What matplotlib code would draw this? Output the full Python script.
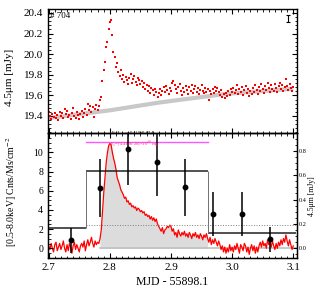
"""
IR (4.5um) flare light curve with X-ray counts, source #704.
"""

import numpy as np
import matplotlib
matplotlib.use("Agg")
import matplotlib.pyplot as plt
from matplotlib.ticker import MultipleLocator

plt.rcParams['font.family'] = ['Liberation Serif', 'DejaVu Serif']
plt.rcParams['mathtext.fontset'] = 'stix'

# time grid (MJD - 55898.1)
mjd = [
    2.700, 2.702, 2.704, 2.706, 2.708, 2.710, 2.712, 2.714, 2.716, 2.718,
    2.720, 2.722, 2.724, 2.726, 2.728, 2.730, 2.732, 2.734, 2.736, 2.738,
    2.740, 2.742, 2.744, 2.746, 2.748, 2.750, 2.752, 2.754, 2.756, 2.758,
    2.760, 2.762, 2.764, 2.766, 2.768, 2.770, 2.772, 2.774, 2.776, 2.778,
    2.780, 2.782, 2.784, 2.786, 2.788, 2.790, 2.792, 2.794, 2.796, 2.798,
    2.800, 2.802, 2.804, 2.806, 2.808, 2.810, 2.812, 2.814, 2.816, 2.818,
    2.820, 2.822, 2.824, 2.826, 2.828, 2.830, 2.832, 2.834, 2.836, 2.838,
    2.840, 2.842, 2.844, 2.846, 2.848, 2.850, 2.852, 2.854, 2.856, 2.858,
    2.860, 2.862, 2.864, 2.866, 2.868, 2.870, 2.872, 2.874, 2.876, 2.878,
    2.880, 2.882, 2.884, 2.886, 2.888, 2.890, 2.892, 2.894, 2.896, 2.898,
    2.900, 2.902, 2.904, 2.906, 2.908, 2.910, 2.912, 2.914, 2.916, 2.918,
    2.920, 2.922, 2.924, 2.926, 2.928, 2.930, 2.932, 2.934, 2.936, 2.938,
    2.940, 2.942, 2.944, 2.946, 2.948, 2.950, 2.952, 2.954, 2.956, 2.958,
    2.960, 2.962, 2.964, 2.966, 2.968, 2.970, 2.972, 2.974, 2.976, 2.978,
    2.980, 2.982, 2.984, 2.986, 2.988, 2.990, 2.992, 2.994, 2.996, 2.998,
    3.000, 3.002, 3.004, 3.006, 3.008, 3.010, 3.012, 3.014, 3.016, 3.018,
    3.020, 3.022, 3.024, 3.026, 3.028, 3.030, 3.032, 3.034, 3.036, 3.038,
    3.040, 3.042, 3.044, 3.046, 3.048, 3.050, 3.052, 3.054, 3.056, 3.058,
    3.060, 3.062, 3.064, 3.066, 3.068, 3.070, 3.072, 3.074, 3.076, 3.078,
    3.080, 3.082, 3.084, 3.086, 3.088, 3.090, 3.092, 3.094, 3.096, 3.098,
    3.100,
]

# 4.5um flux [mJy]
flux = [
    19.44, 19.40, 19.37, 19.42, 19.39, 19.43, 19.38, 19.41, 19.36, 19.44,
    19.40, 19.43, 19.38, 19.47, 19.42, 19.45, 19.39, 19.41, 19.37, 19.43,
    19.48, 19.40, 19.38, 19.44, 19.41, 19.37, 19.42, 19.45, 19.39, 19.43,
    19.47, 19.41, 19.52, 19.46, 19.50, 19.44, 19.49, 19.39, 19.47, 19.51,
    19.46, 19.50, 19.56, 19.58, 19.74, 19.85, 19.92, 20.07, 20.12, 20.24,
    20.31, 20.33, 20.19, 20.02, 19.97, 19.88, 19.91, 19.83, 19.79, 19.85,
    19.76, 19.80, 19.73, 19.78, 19.75, 19.71, 19.77, 19.81, 19.72, 19.76,
    19.79, 19.73, 19.70, 19.77, 19.75, 19.71, 19.74, 19.68, 19.72, 19.66,
    19.70, 19.64, 19.69, 19.62, 19.67, 19.65, 19.60, 19.66, 19.63, 19.58,
    19.62, 19.66, 19.60, 19.64, 19.68, 19.63, 19.69, 19.65, 19.61, 19.67,
    19.64, 19.72, 19.74, 19.70, 19.66, 19.62, 19.68, 19.71, 19.64, 19.60,
    19.67, 19.63, 19.69, 19.65, 19.61, 19.68, 19.64, 19.70, 19.62, 19.66,
    19.69, 19.63, 19.67, 19.61, 19.65, 19.70, 19.64, 19.62, 19.67, 19.63,
    19.66, 19.56, 19.64, 19.61, 19.66, 19.62, 19.68, 19.64, 19.67, 19.63,
    19.60, 19.65, 19.58, 19.61, 19.57, 19.62, 19.59, 19.64, 19.60, 19.66,
    19.63, 19.67, 19.62, 19.65, 19.70, 19.61, 19.66, 19.63, 19.68, 19.60,
    19.65, 19.69, 19.62, 19.66, 19.59, 19.64, 19.61, 19.67, 19.63, 19.70,
    19.65, 19.61, 19.68, 19.64, 19.71, 19.66, 19.62, 19.69, 19.65, 19.72,
    19.67, 19.63, 19.70, 19.66, 19.64, 19.71, 19.67, 19.63, 19.69, 19.72,
    19.66, 19.70, 19.64, 19.68, 19.76, 19.69, 19.65, 19.71, 19.67, 19.64,
    19.68,
]

# quiescent baseline (grey band)
base_t = [2.700, 2.800, 2.880, 2.990, 3.100]
base_f = [19.38, 19.455, 19.53, 19.615, 19.665]

# baseline-subtracted 4.5um flux [mJy], right axis of lower panel
dflux = [
    0.02, -0.01, 0.04, 0.00, -0.03, 0.03, 0.05, -0.02, 0.01, 0.04,
    -0.01, 0.02, 0.06, 0.00, -0.03, 0.03, -0.02, 0.04, 0.01, -0.04,
    0.02, 0.05, -0.01, 0.03, 0.00, -0.03, 0.02, 0.04, 0.01, 0.06,
    -0.02, 0.03, 0.07, 0.02, 0.05, 0.09, 0.04, 0.01, 0.06, 0.03,
    0.05, 0.04, 0.08, 0.15, 0.30, 0.45, 0.58, 0.70, 0.78, 0.84,
    0.86, 0.85, 0.79, 0.74, 0.70, 0.65, 0.58, 0.55, 0.52, 0.48,
    0.46, 0.44, 0.41, 0.42, 0.38, 0.39, 0.36, 0.37, 0.34, 0.35,
    0.33, 0.34, 0.31, 0.33, 0.32, 0.30, 0.31, 0.29, 0.30, 0.27,
    0.28, 0.26, 0.27, 0.24, 0.26, 0.23, 0.25, 0.22, 0.24, 0.20,
    0.18, 0.16, 0.14, 0.17, 0.12, 0.15, 0.16, 0.18, 0.17, 0.19,
    0.18, 0.14, 0.16, 0.11, 0.13, 0.09, 0.15, 0.12, 0.10, 0.13,
    0.11, 0.14, 0.10, 0.12, 0.09, 0.13, 0.11, 0.08, 0.12, 0.10,
    0.13, 0.09, 0.11, 0.08, 0.12, 0.10, 0.07, 0.11, 0.09, 0.12,
    0.08, 0.05, 0.09, 0.03, 0.07, 0.04, 0.08, 0.05, 0.02, 0.06,
    0.03, -0.01, 0.02, -0.03, 0.01, -0.04, 0.00, -0.03, 0.03, -0.02,
    0.01, -0.03, 0.02, -0.01, 0.04, 0.00, -0.04, 0.03, 0.01, -0.02,
    0.04, 0.02, -0.03, 0.01, -0.05, 0.00, 0.03, -0.02, 0.02, -0.04,
    0.01, -0.03, 0.02, 0.05, 0.01, 0.06, 0.02, 0.04, 0.00, 0.07,
    0.03, 0.05, 0.01, 0.06, 0.02, -0.01, 0.04, 0.00, 0.05, 0.02,
    0.07, 0.03, 0.08, 0.05, 0.11, 0.06, 0.02, 0.07, 0.03, -0.01,
    0.02,
]

# X-ray binned counts
xr_t = [2.737, 2.784, 2.830, 2.877, 2.923, 2.969, 3.016, 3.062]
xr_c = [0.86, 6.3, 10.35, 9.0, 6.35, 3.6, 3.6, 0.93]
xr_e = [1.3, 3.0, 3.8, 3.6, 3.0, 2.3, 2.3, 1.3]

# Bayesian-block levels
blk_edges = [2.700, 2.761, 2.960, 3.105]
blk_rate = [2.15, 8.1, 1.63]
quiet_rate = 2.46
flare_t0, flare_t1 = 2.784, 2.960
flare_bar = 11.1

fig = plt.figure(figsize=(3.27, 2.94), dpi=100)
ax1 = fig.add_axes([0.147, 0.5466, 0.761, 0.4218])
ax2 = fig.add_axes([0.147, 0.1214, 0.761, 0.4252])
ax3 = ax2.twinx()

xlim = (2.699, 3.106)

# upper panel
ax1.plot(base_t, base_f, color='#c8c8c8', lw=3, solid_capstyle='butt', zorder=1)
ax1.plot(mjd, flux, 's', color='red', ms=2.0, mew=0, zorder=2)
ax1.errorbar([3.092], [20.345], yerr=[0.035], color='black', lw=0.8,
             capsize=1.6, capthick=0.8)
ax1.text(0.008, 0.975, '# 704', transform=ax1.transAxes, fontsize=6.5,
         va='top', ha='left')
ax1.set_xlim(*xlim)
ax1.set_ylim(19.232, 20.436)
ax1.yaxis.set_major_locator(MultipleLocator(0.2))
ax1.yaxis.set_minor_locator(MultipleLocator(0.04))
ax1.set_ylabel('4.5μm [mJy]', fontsize=8)
ax1.yaxis.set_label_coords(-0.135, 0.45)
ax1.tick_params(labelbottom=False)

# lower panel, right axis: IR excess curve
t_arr = np.array(mjd)
d_arr = np.array(dflux)
in_flare = (t_arr >= flare_t0) & (t_arr <= flare_t1)
ax3.fill_between(t_arr, 0, d_arr, where=in_flare, color='#dcdcdc', lw=0,
                 zorder=1)
ax3.plot([flare_t0, xlim[1]], [0, 0], color='#c0c0c0', lw=1.2, zorder=1)
ax3.plot(mjd, dflux, color='red', lw=0.9, zorder=2)
ax3.set_ylim(-0.082, 0.943)
ax3.yaxis.set_major_locator(MultipleLocator(0.2))
ax3.yaxis.set_minor_locator(MultipleLocator(0.05))
ax3.set_ylabel('4.5μm [mJy]', fontsize=5.5, labelpad=1)
ax3.tick_params(axis='y', which='both', direction='in', labelsize=4.5,
                pad=1.5)
ax3.tick_params(axis='y', which='major', length=3)
ax3.tick_params(axis='y', which='minor', length=1.5)

# lower panel, left axis: X-ray
ax2.set_zorder(ax3.get_zorder() + 1)
ax2.patch.set_visible(False)
ax2.hlines(blk_rate, blk_edges[:-1], blk_edges[1:], color='#202020', lw=1.1)
ax2.vlines(blk_edges[1:-1], blk_rate[:-1], blk_rate[1:], color='#707070',
           lw=0.7)
ax2.plot([blk_edges[1], xlim[1]], [quiet_rate, quiet_rate], ':',
         color='#808080', lw=0.7)
ax2.plot([blk_edges[1], flare_t1], [flare_bar, flare_bar], color='#ff55ff',
         lw=1.0)
ax2.errorbar(xr_t, xr_c, yerr=xr_e, fmt='o', color='black', ms=3.2, lw=1.1,
             capsize=0)
ax2.text(2.802, 11.45, r'E$_{fl}$/L$_{IR,fl}$=0.415±0.024', fontsize=3.3,
         color='black', va='bottom')
ax2.text(2.800, 11.3, r'E$_{fl}$=(4.43±0.20)×10$^{40}$ erg', fontsize=3.3,
         color='#ff3366', va='top')
ax2.set_xlim(*xlim)
ax2.set_ylim(-1.04, 11.98)
ax2.yaxis.set_major_locator(MultipleLocator(2))
ax2.yaxis.set_minor_locator(MultipleLocator(0.5))
ax2.set_ylabel(r'[0.5-8.0keV] Cnts/Ms/cm$^{-2}$', fontsize=7)
ax2.yaxis.set_label_coords(-0.115, 0.53)
ax2.set_xlabel('MJD - 55898.1', fontsize=8.5, labelpad=3)

for ax in (ax1, ax2):
    ax.xaxis.set_major_locator(MultipleLocator(0.1))
    ax.xaxis.set_minor_locator(MultipleLocator(0.01))
    ax.tick_params(which='both', direction='in', top=True)
    ax.tick_params(which='major', length=3.5, labelsize=8)
    ax.tick_params(which='minor', length=1.8)
    for s in ax.spines.values():
        s.set_linewidth(1.0)
ax1.tick_params(which='both', right=True)
ax2.tick_params(axis='y', labelsize=7)

fig.savefig('out.png', dpi=100)
